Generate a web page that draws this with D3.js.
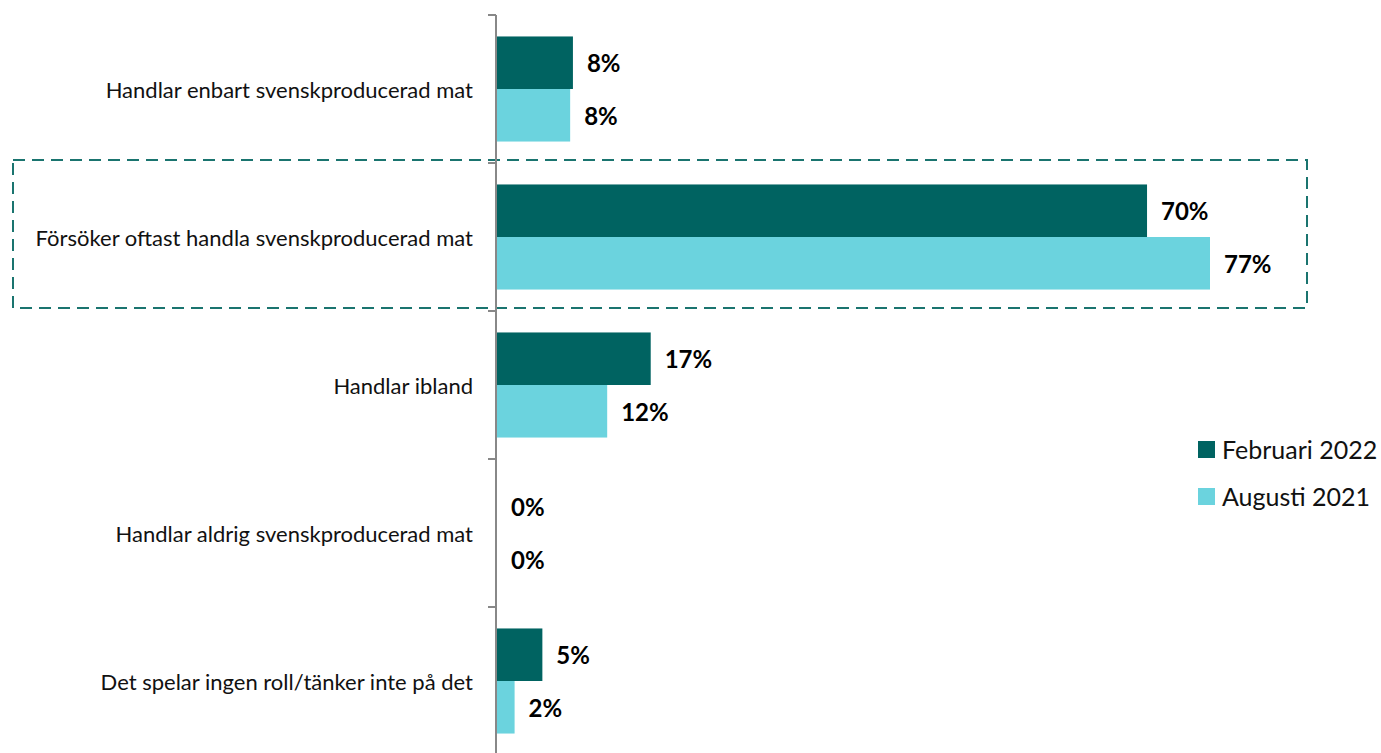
<!DOCTYPE html>
<html><head><meta charset="utf-8">
<script src="https://cdn.jsdelivr.net/npm/d3@7"></script>
<style>body{margin:0;background:#fff}svg{display:block}</style>
</head><body>
<script>
const categories = ["Handlar enbart svenskproducerad mat","Försöker oftast handla svenskproducerad mat","Handlar ibland","Handlar aldrig svenskproducerad mat","Det spelar ingen roll/tänker inte på det"];
const seriesNames = ["Februari 2022","Augusti 2021"];
const feb2022 = [8.2, 70.2, 16.6, 0, 4.9];
const aug2021 = [7.9, 77, 11.9, 0, 1.9];
const labelsFeb = ["8%","70%","17%","0%","5%"];
const labelsAug = ["8%","77%","12%","0%","2%"];
const colors = ["#006361","#6bd3de"];
const highlighted = 1;

const W=1381,H=753;
const svg=d3.select("body").append("svg").attr("width",W).attr("height",H);
const x=d3.scaleLinear().domain([0,77]).range([497,1210]);
const y=d3.scaleBand().domain(categories).range([15,755]).paddingInner(0.29).paddingOuter(0.145);
const y1=d3.scaleBand().domain(seriesNames).range([0,y.bandwidth()]);
const series=[feb2022,aug2021], labels=[labelsFeb,labelsAug];

// highlight box
const step=y.step();
const hb=y(categories[highlighted])-y.paddingOuter()*step;
svg.append("rect").attr("x",13).attr("y",hb-3).attr("width",1294).attr("height",148)
  .attr("fill","none").attr("stroke","#1a746f").attr("stroke-width",2).attr("stroke-dasharray","12,7");

series.forEach((vals,si)=>{
  svg.append("g").selectAll("rect").data(vals).join("rect")
    .attr("x",x(0)).attr("y",(d,i)=>y(categories[i])+y1(seriesNames[si]))
    .attr("width",d=>x(d)-x(0)).attr("height",y1.bandwidth()).attr("fill",colors[si]);
  svg.append("g").selectAll("text").data(vals).join("text")
    .attr("x",d=>x(d)+14).attr("y",(d,i)=>y(categories[i])+y1(seriesNames[si])+y1.bandwidth()/2)
    .attr("dominant-baseline","central").attr("font-family","Lato, 'Open Sans', sans-serif")
    .attr("font-weight","bold").attr("font-size",24).attr("fill","#000")
    .text((d,i)=>labels[si][i]);
});

// axis
const axis=d3.axisLeft(d3.scaleBand().domain(categories).range([15,755])).tickSize(0).tickFormat("");
const ag=svg.append("g").attr("transform",`translate(${x(0)-1},0)`).call(axis);
ag.select(".domain").attr("stroke","#888").attr("stroke-width",2).attr("d","M0,15V755");
const tickY=d3.range(categories.length).map(i=>15+i*step);
ag.selectAll("line.tk").data(tickY).join("line").attr("class","tk")
  .attr("x1",-8).attr("x2",0).attr("y1",d=>d).attr("y2",d=>d).attr("stroke","#888").attr("stroke-width",2);
svg.append("g").selectAll("text").data(categories).join("text")
  .attr("x",473).attr("y",d=>y(d)+y.bandwidth()/2)
  .attr("text-anchor","end").attr("dominant-baseline","central")
  .attr("font-family","Lato, 'Open Sans', sans-serif").attr("font-size",22).attr("fill","#111").text(d=>d);

// legend
const lg=svg.append("g");
seriesNames.forEach((n,i)=>{
  const ly=449+i*47;
  lg.append("rect").attr("x",1198).attr("y",ly-8).attr("width",17).attr("height",17).attr("fill",colors[i]);
  lg.append("text").attr("x",1222).attr("y",ly).attr("dominant-baseline","central")
    .attr("font-family","Lato, 'Open Sans', sans-serif").attr("font-size",25).attr("fill","#111").text(n);
});
</script>
</body></html>
